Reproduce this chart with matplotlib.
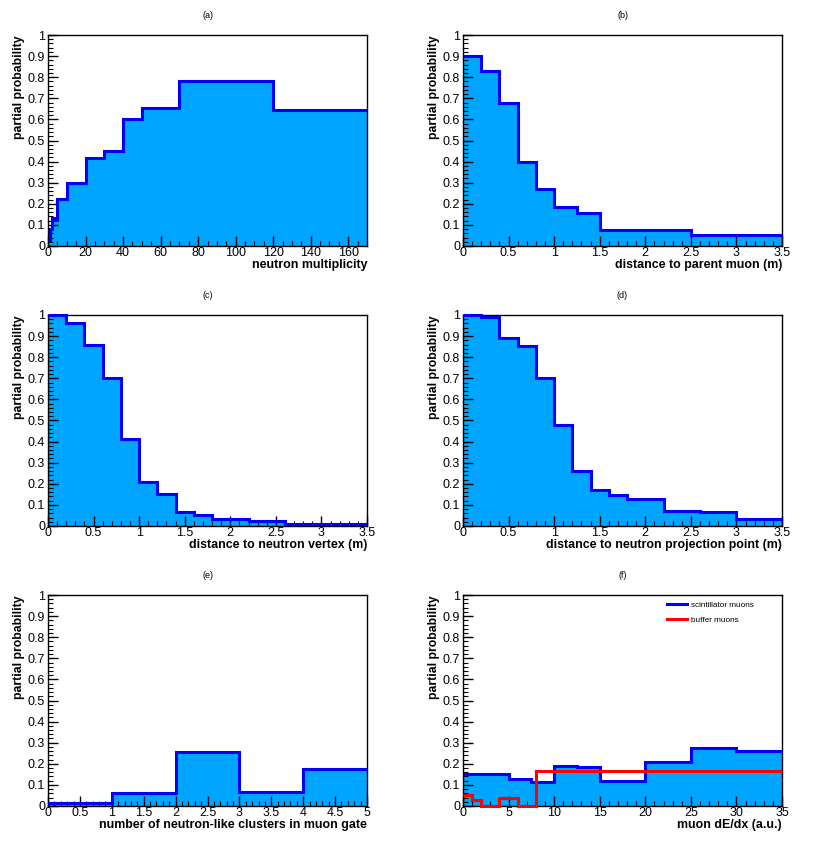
import numpy as np
import matplotlib.pyplot as plt
from matplotlib.ticker import MultipleLocator, FuncFormatter

plt.rcParams['font.family'] = ['Liberation Sans', 'DejaVu Sans']

# (a) neutron multiplicity
a_edges = [0, 1, 2, 3, 5, 10, 20, 30, 40, 50, 70, 120, 170]
a_vals = [0.03, 0.08, 0.135, 0.125, 0.225, 0.30, 0.415, 0.45, 0.60, 0.655, 0.78, 0.645]
# (b) distance to parent muon
b_edges = [0, 0.2, 0.4, 0.6, 0.8, 1.0, 1.25, 1.5, 2.5, 3.5]
b_vals = [0.90, 0.83, 0.68, 0.40, 0.27, 0.185, 0.155, 0.075, 0.05]
# (c) distance to neutron vertex
c_edges = [0, 0.2, 0.4, 0.6, 0.8, 1.0, 1.2, 1.4, 1.6, 1.8, 2.2, 2.6, 3.5]
c_vals = [1.0, 0.96, 0.86, 0.70, 0.41, 0.21, 0.15, 0.065, 0.05, 0.035, 0.025, 0.01]
# (d) distance to neutron projection point
d_edges = [0, 0.2, 0.4, 0.6, 0.8, 1.0, 1.2, 1.4, 1.6, 1.8, 2.2, 2.6, 3.0, 3.5]
d_vals = [1.0, 0.99, 0.89, 0.855, 0.70, 0.48, 0.26, 0.17, 0.145, 0.13, 0.07, 0.065, 0.035]
# (e) number of neutron-like clusters in muon gate
e_edges = [0, 1, 2, 3, 4, 5]
e_vals = [0.015, 0.06, 0.255, 0.065, 0.175]
# (f) muon dE/dx
f_edges = [0, 5, 7.5, 10, 12.5, 15, 20, 25, 30, 35]
f_vals = [0.15, 0.13, 0.115, 0.19, 0.185, 0.12, 0.21, 0.275, 0.26]
f_buf_edges = [0, 1, 2, 4, 6, 8, 35]
f_buf_vals = [0.05, 0.03, 0.0, 0.04, 0.0, 0.165]

panels = [
    ("(a)", a_edges, a_vals, "neutron multiplicity", 170, 20, 5),
    ("(b)", b_edges, b_vals, "distance to parent muon (m)", 3.5, 0.5, 0.1),
    ("(c)", c_edges, c_vals, "distance to neutron vertex (m)", 3.5, 0.5, 0.1),
    ("(d)", d_edges, d_vals, "distance to neutron projection point (m)", 3.5, 0.5, 0.1),
    ("(e)", e_edges, e_vals, "number of neutron-like clusters in muon gate", 5, 0.5, 0.1),
    ("(f)", f_edges, f_vals, "muon dE/dx (a.u.)", 35, 5, 1),
]

W, H = 830, 841
fig = plt.figure(figsize=(W / 100, H / 100), dpi=100)

lefts = [48, 463]
tops = [35, 315, 595]
aw, ah = 319, 211

fill_col = '#00a5ff'
line_col = '#0000ff'


def fmt(v, pos):
    return '%g' % round(v, 3)


for i, (title, edges, vals, xlabel, xmax, major, minor) in enumerate(panels):
    r, c = divmod(i, 2)
    l = lefts[c]
    t = tops[r]
    ax = fig.add_axes([l / W, 1 - (t + ah) / H, aw / W, ah / H])
    ax.stairs(vals, edges, fill=True, color=fill_col, lw=0)
    ax.stairs(vals, edges, baseline=None, color=line_col, lw=2.2, clip_on=False, zorder=3)
    if title == "(f)":
        ax.stairs(f_buf_vals, f_buf_edges, baseline=None, color='#ff0000', lw=2.2,
                  clip_on=False, zorder=4)
        ax.plot([], [], color=line_col, lw=2.2, label='scintillator muons')
        ax.plot([], [], color='#ff0000', lw=2.2, label='buffer muons')
        ax.legend(loc='upper left', bbox_to_anchor=(0.629, 0.986), frameon=False,
                  fontsize=5.9, handlelength=2.4, labelspacing=0.85, handletextpad=0.5,
                  borderaxespad=0)
    ax.set_xlim(0, xmax)
    ax.set_ylim(0, 1)
    ax.xaxis.set_major_locator(MultipleLocator(major))
    ax.xaxis.set_minor_locator(MultipleLocator(minor))
    ax.yaxis.set_major_locator(MultipleLocator(0.1))
    ax.yaxis.set_minor_locator(MultipleLocator(0.02))
    ax.xaxis.set_major_formatter(FuncFormatter(fmt))
    ax.yaxis.set_major_formatter(FuncFormatter(fmt))
    ax.tick_params(which='major', direction='in', length=7, width=1, labelsize=9, pad=2)
    ax.tick_params(which='minor', direction='in', length=3.5, width=0.8)
    ax.tick_params(axis='x', which='both', top=False)
    ax.tick_params(axis='y', which='both', right=False)
    ax.tick_params(axis='x', pad=1)
    for sp in ax.spines.values():
        sp.set_linewidth(1.0)
    ax.set_xlabel(xlabel, loc='right', fontsize=8.9, fontweight='bold', labelpad=0)
    ax.set_ylabel("partial probability", loc='top', fontsize=8.8, fontweight='bold', labelpad=2)
    fig.text((l + aw / 2) / W, 1 - (t - 19) / H, title, ha='center', va='center', fontsize=6.5)

fig.savefig('out.png', dpi=100)
